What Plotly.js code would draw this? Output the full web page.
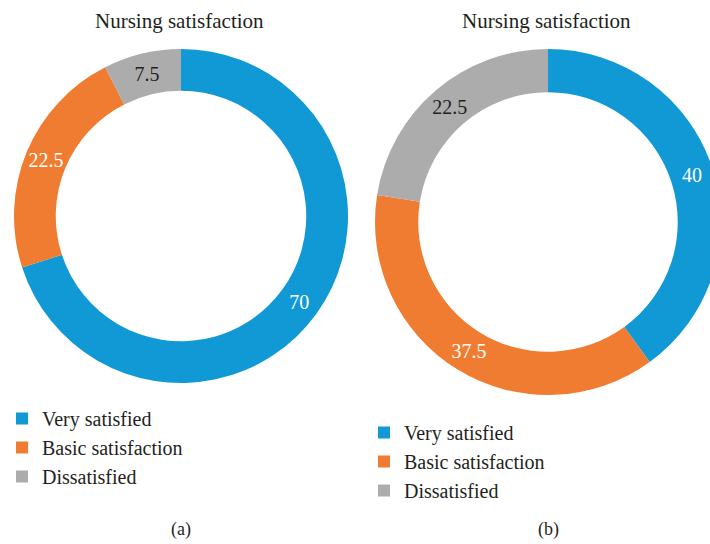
<!DOCTYPE html>
<html>
<head>
<meta charset="utf-8">
<script src="https://cdn.plot.ly/plotly-3.0.1.min.js"></script>
<style>
html,body{margin:0;padding:0;overflow:hidden;background:#fff;}
#chart{width:730px;height:544px;}
</style>
</head>
<body>
<div id="chart"></div>
<script>
const categories = ["Very satisfied", "Basic satisfaction", "Dissatisfied"];
const valuesA = [70, 22.5, 7.5];
const valuesB = [40, 37.5, 22.5];
const chartTitle = "Nursing satisfaction";
const panelLabels = ["(a)", "(b)"];

const colors = ["#1199d6", "#f07c31", "#acacac"];
const labelColors = ["#ffffff", "#ffffff", "#231f20"];
const FONT = "'Liberation Serif', 'Times New Roman', serif";
const W = 730, H = 544;

// trailing space keeps the two legends' entries separate (invisible in SVG)
const categoriesB = categories.map(c => c + " ");

function pie(labels, values, dom, legendId) {
  return {
    type: "pie",
    labels: labels,
    values: values,
    sort: false,
    direction: "clockwise",
    rotation: 0,
    hole: 0.75,
    domain: dom,
    marker: {colors: colors, line: {width: 0}},
    texttemplate: "%{value}",
    textposition: "inside",
    insidetextorientation: "horizontal",
    textfont: {family: FONT, size: 20, color: labelColors},
    hoverinfo: "none",
    legend: legendId
  };
}

const traces = [
  pie(categories, valuesA, {x: [14 / W, 348 / W], y: [161 / H, 495 / H]}, "legend"),
  pie(categoriesB, valuesB, {x: [375 / W, 721 / W], y: [149 / H, 495 / H]}, "legend2")
];

const legendBase = {
  font: {family: FONT, size: 20, color: "#231f20"},
  bgcolor: "rgba(0,0,0,0)",
  borderwidth: 0,
  xanchor: "left",
  yanchor: "top",
  traceorder: "normal"
};

function ann(text, x, y, size) {
  return {text: text, x: x / W, y: 1 - y / H, xref: "paper", yref: "paper",
          xanchor: "center", yanchor: "middle", showarrow: false,
          font: {family: FONT, size: size, color: "#231f20"}};
}

const layout = {
  width: W,
  height: H,
  margin: {l: 0, r: 0, t: 0, b: 0, autoexpand: false},
  paper_bgcolor: "#ffffff",
  font: {family: FONT, color: "#231f20"},
  showlegend: true,
  legend: Object.assign({}, legendBase, {x: 2 / W, y: 1 - 399 / H}),
  legend2: Object.assign({}, legendBase, {x: 364 / W, y: 1 - 413 / H}),
  annotations: [
    ann(chartTitle, 179, 21, 21),
    ann(chartTitle, 546, 21, 21),
    ann(panelLabels[0], 181, 529, 18),
    ann(panelLabels[1], 548, 529, 18)
  ]
};

Plotly.newPlot("chart", traces, layout, {displayModeBar: false, staticPlot: true});
</script>
</body>
</html>
